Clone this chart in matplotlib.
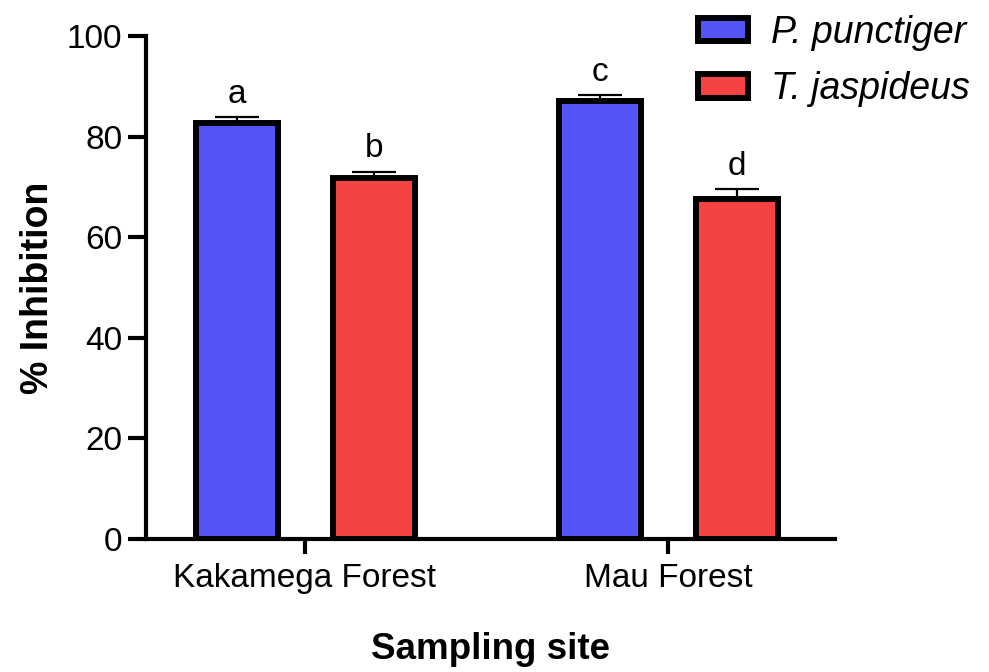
import matplotlib.pyplot as plt
import numpy as np

plt.rcParams['font.family'] = ['Liberation Sans', 'DejaVu Sans']

sites = ["Kakamega Forest", "Mau Forest"]
species = ["P. punctiger", "T. jaspideus"]
means = {"P. punctiger": [82.8, 87.1], "T. jaspideus": [71.8, 67.6]}
errors = {"P. punctiger": [1.1, 1.2], "T. jaspideus": [1.2, 2.0]}
letters = {"P. punctiger": ["a", "c"], "T. jaspideus": ["b", "d"]}
colors = {"P. punctiger": "#5353F6", "T. jaspideus": "#F54242"}
offsets = {"P. punctiger": -0.187, "T. jaspideus": 0.19}

fig = plt.figure(figsize=(9.89, 6.72), dpi=100)
ax = fig.add_axes([0.1476, 0.198, 0.6966, 0.748])

x = np.arange(len(sites))
for sp in species:
    xs = x + offsets[sp]
    ax.bar(xs, means[sp], width=0.225, color=colors[sp], edgecolor="black",
           linewidth=4.3, label=sp, zorder=2)
    ax.errorbar(xs, means[sp], yerr=[np.zeros(len(sites)), errors[sp]],
                fmt="none", ecolor="black", elinewidth=1.6, capsize=16,
                capthick=1.6, zorder=1)
    for xi, m, e, t in zip(xs, means[sp], errors[sp], letters[sp]):
        ax.text(xi, m + e + 1.5, t, ha="center", va="bottom", fontsize=24)

ax.set_xlim(-0.438, 1.46)
ax.set_ylim(0, 100)
ax.set_yticks([0, 20, 40, 60, 80, 100])
ax.set_xticks(x)
ax.set_xticklabels(sites)
for s in ["top", "right"]:
    ax.spines[s].set_visible(False)
for s in ["left", "bottom"]:
    ax.spines[s].set_linewidth(3.0)
ax.tick_params(axis="y", length=13, width=3.0, labelsize=24, pad=4)
ax.tick_params(axis="x", length=11, width=3.0, labelsize=24, pad=6)
ax.set_ylabel("% Inhibition", fontsize=27, fontweight="bold", labelpad=8)
ax.set_xlabel("Sampling site", fontsize=26.5, fontweight="bold", labelpad=28)

leg = ax.legend(loc="upper left", bbox_to_anchor=(0.752, 1.11), frameon=False,
                prop={"style": "italic", "size": 27},
                handlelength=1.35, handleheight=0.6, handletextpad=0.6,
                labelspacing=0.55)
for h in leg.legend_handles:
    h.set_linewidth(4.3)

fig.savefig("out.png", dpi=100)
